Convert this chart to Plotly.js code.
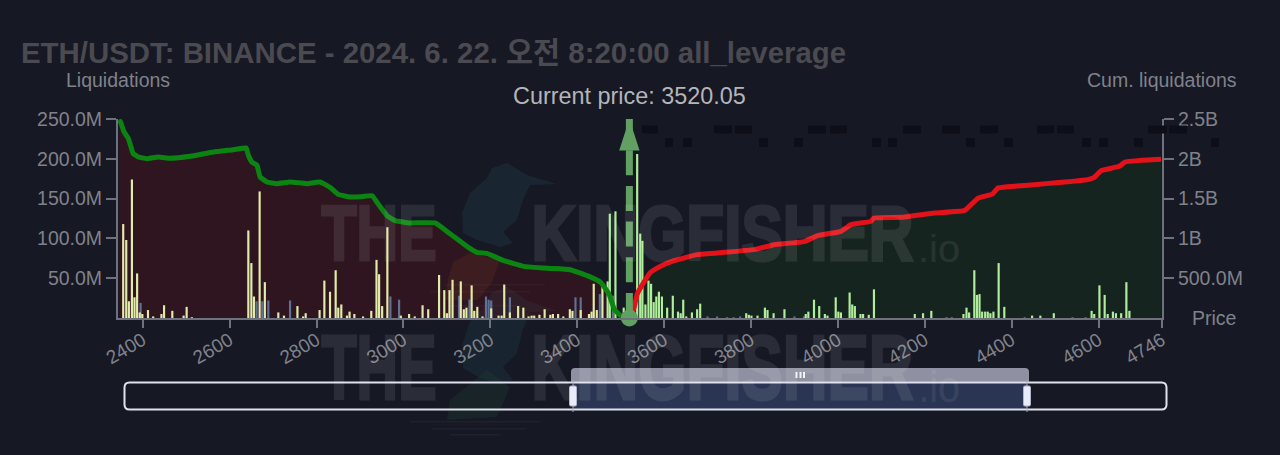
<!DOCTYPE html>
<html><head><meta charset="utf-8">
<script src="https://cdn.plot.ly/plotly-3.0.1.min.js"></script>
<style>html,body{margin:0;padding:0;background:#161824}#c{width:1280px;height:455px}</style>
</head><body><div id="c"></div>
<script>
var yellowPrices=[2355,2362,2368,2375,2381,2387,2393,2399,2412,2424,2443,2449,2468,2494,2501,2513,2643,2650,2656,2669,2681,2712,2725,2756,2769,2775,2807,2818,2831,2844,2850,2857,2870,2876,2887,2907,2926,2938,2944,2951,2963,2994,3013,3026,3044,3057,3082,3094,3100,3106,3113,3132,3139,3145,3157,3163,3170,3182,3202,3219,3226,3232,3245,3264,3276,3288,3295,3301,3313,3325,3338,3344,3356,3368,3383,3389,3408,3427,3433,3438,3445,3458];
var yellowValues=[118,98,21,174,26,56,7,5,10,2,5,16,9,3,14,1,110,69,27,159,45,7,3,15,2,6,10,47,33,60,13,17,3,8,5,2,9,73,55,15,114,3,5,2,16,11,54,35,6,35,48,46,11,13,41,9,14,2,12,3,3,42,7,15,13,2,3,3,4,11,4,5,5,2,11,9,10,5,8,43,10,39];
var bluePrices=[2395,2662,2675,2689,2739,2970,2990,3128,3152,3190,3196,3202,3245,3396,3408,3452,3482,3640,3700,3722,3745,3760,3775,3900,3922,4250,4262,4430,4540,4570];
var blueValues=[19,21,21,22,22,27,23,28,23,27,23,22,26,26,26,30,28,2,2,2,1,1,2,2,2,1,1,1,1,1];
var greenPrices=[3470,3475,3488,3507,3538,3545,3550,3557,3564,3570,3576,3582,3588,3595,3607,3620,3632,3638,3644,3651,3664,3676,3683,3789,3795,3801,3815,3832,3838,3852,3877,3926,3932,3945,3957,3970,3976,3995,4001,4007,4027,4033,4039,4052,4058,4071,4083,4177,4196,4215,4289,4296,4302,4314,4320,4326,4332,4339,4345,4351,4358,4370,4383,4447,4466,4497,4584,4590,4602,4614,4621,4633,4640,4652,4664,4671];
var greenValues=[46,131,134,13,206,106,97,17,47,43,20,27,33,27,13,28,8,6,23,2,7,11,18,6,4,3,3,13,10,6,11,5,8,23,15,5,3,26,8,7,32,17,15,5,5,4,36,5,6,9,5,13,7,60,29,30,8,8,8,6,8,69,14,3,3,6,9,5,41,29,5,8,6,6,45,9];
var shortPrices=[2345,2349,2357,2367,2378,2390,2409,2436,2463,2509,2563,2609,2638,2643,2651,2663,2670,2686,2709,2739,2778,2808,2832,2851,2878,2901,2928,2939,2962,2981,3016,3073,3108,3146,3169,3192,3231,3277,3331,3384,3423,3454,3473,3486,3500,3520.05];
var shortCum=[2.49,2.46,2.337,2.253,2.065,2.023,2.002,2.023,2.006,2.031,2.086,2.115,2.136,2.044,1.96,1.918,1.772,1.709,1.688,1.709,1.688,1.709,1.638,1.55,1.52,1.524,1.537,1.453,1.286,1.223,1.194,1.194,1.055,0.9,0.825,0.812,0.72,0.649,0.624,0.607,0.532,0.448,0.302,0.101,0.03,0];
var longPrices=[3520.05,3530,3538,3550,3569,3592,3623,3676,3738,3807,3853,3922,3953,4007,4030,4076,4083,4145,4222,4291,4302,4322,4356,4368,4391,4452,4575,4590,4606,4648,4661,4690,4744];
var longCum=[0,0.113,0.3,0.419,0.574,0.65,0.72,0.796,0.825,0.859,0.921,0.959,1.034,1.089,1.173,1.214,1.256,1.265,1.319,1.349,1.399,1.503,1.558,1.633,1.65,1.675,1.738,1.767,1.851,1.906,1.96,1.977,1.993];
var currentPrice=3520.05;
var xTickVals=[2400,2600,2800,3000,3200,3400,3600,3800,4000,4200,4400,4600,4746];
var xTickText=['2400','2600','2800','3000','3200','3400','3600','3800','4000','4200','4400','4600','4746'];
var yTickVals=[50,100,150,200,250];
var yTickText=['50.0M','100.0M','150.0M','200.0M','250.0M'];
var y2TickVals=[0.5,1,1.5,2,2.5];
var y2TickText=['500.0M','1B','1.5B','2B','2.5B'];

var L=118,R=1162,T=119,B=318;
function px(x){return (x-L)/(R-L);}
function py(y){return (B-y)/(B-T);}
function P(cmds){return cmds.map(function(c){return c[0]+c.slice(1).map(function(v,i){return i%2?py(v):px(v);}).join(',');}).join(' ');}
function rr(x0,y0,x1,y1,r){
  return P([['M',x0+r,y0],['L',x1-r,y0],['Q',x1,y0,x1,y0+r],['L',x1,y1-r],['Q',x1,y1,x1-r,y1],['L',x0+r,y1],['Q',x0,y1,x0,y1-r],['L',x0,y0+r],['Q',x0,y0,x0+r,y0]])+' Z';
}
function shp(path,fill,line,lw,layer){return {type:'path',xref:'paper',yref:'paper',path:path,fillcolor:fill,line:{color:line||'rgba(0,0,0,0)',width:lw||0},layer:layer||'above'};}
function box(x0,y0,x1,y1,fill,layer){return shp(P([['M',x0,y0],['L',x1,y0],['L',x1,y1],['L',x0,y1]])+' Z',fill,null,0,layer);}
var shapes=[];
// watermark bird outline, upper copy; lower copy is the same outline stretched
var birdOutline=[[507,163],[527,175],[557,184],[530,185],[523,200],[517,220],[503,232],[513,243],[500,247],[477,240],[463,233],[462,213],[470,193],[487,178],[492,168]];
function bird(mapY,c){
  var cmds=birdOutline.map(function(p,i){return [i?'L':'M',p[0],mapY(p[1])];});
  return shp(P(cmds)+' Z',c,null,0,'below');
}
shapes.push(bird(function(y){return y;},'rgba(32,70,80,0.3)'));
shapes.push(bird(function(y){return 332+(y-202)*7/6;},'rgba(32,70,80,0.28)'));
shapes.push(shp(P([['M',453,262],['L',470,253],['L',500,260],['L',492,282],['L',478,300],['L',445,300],['L',448,280]])+' Z','rgba(170,110,40,0.12)',null,0,'below'));
shapes.push(shp(P([['M',450,400],['L',487,370],['L',510,387],['L',497,417],['L',447,420]])+' Z','rgba(30,75,50,0.26)',null,0,'below'));
[[284,445,545],[291,430,530],[305,450,520],[421,410,540],[428,432,525],[434,450,500]].forEach(function(s){
  shapes.push(box(s[1],s[0],s[2],s[0]+1.5,'rgba(120,140,130,0.09)','below'));
});
// dark blocks above the plot
[[642,658],[714,732],[735,752],[808,826],[830,847],[903,921],[942,960],[980,998],[1037,1054],[1057,1074],[1148,1167],[1169,1187]].forEach(function(d){
  shapes.push(box(d[0],125.5,d[1],133.5,'#0d0e17'));
});
[[665,673],[683,692],[759,768],[794,803],[872,881],[888,897],[966,975],[1004,1013],[1082,1091],[1099,1108],[1134,1143],[1211,1219]].forEach(function(d){
  shapes.push(box(d[0],138,d[1],147,'#0d0e17'));
});
// zoom slider
shapes.push(box(573,382,1027,410,'rgba(70,95,150,0.42)'));
shapes.push(shp(rr(124.5,382.5,1166.5,409.5,5),'rgba(0,0,0,0)','#dfe2ee',2));
shapes.push(shp(P([['M',571,382],['L',571,372],['Q',571,368,575,368],['L',1025,368],['Q',1029,368,1029,372],['L',1029,382]])+' Z','rgba(200,204,222,0.68)'));
[795.5,799.5,803].forEach(function(x){shapes.push(box(x,372,x+2,378,'#f2f3f8'));});
[573,1027].forEach(function(x){
  shapes.push(shp(P([['M',x,380],['L',x,412]]),'rgba(0,0,0,0)','#a8acc0',1));
  shapes.push(shp(rr(x-3.5,386,x+3.5,406,1.5),'#e8ebfa','#b0b4c8',1));
});

var wmFont='"Liberation Sans",sans-serif';
function wm(text,x,y,size,w){return {text:text,xref:'paper',yref:'paper',x:px(x),y:py(y),xanchor:'center',yanchor:'middle',showarrow:false,font:{family:wmFont,size:size,weight:w,color:'#ffffff'}};}
function lbl(text,x,y,size,color,anchor){return {text:text,xref:'paper',yref:'paper',x:px(x),y:py(y),xanchor:anchor||'left',yanchor:'middle',showarrow:false,font:{family:'"Liberation Sans",Arial,sans-serif',size:size,color:color}};}
var annotations=[
 wm('THE',379,233,78,700),wm('KINGFISHER',722,233,78,700),wm('.io',939,249,38,400),
 wm('THE',379,367,91,700),wm('KINGFISHER',722,367,91,700),wm('.io',939,386,44,400),
 lbl('Liquidations',64,80,19.5,'#80828a'),
 lbl('Cum. liquidations',1085,80,19.5,'#80828a'),
 lbl('Current price: 3520.05',629,96,23.4,'#b4b5b9','center'),
 lbl('Price',1190,318,19.5,'#80828a')
];
var arrowGreen='#629f62';
var traces=[
 {type:'scatter',mode:'none',x:shortPrices,y:shortCum,yaxis:'y',fill:'tozeroy',fillcolor:'rgba(147,9,16,0.2)',hoverinfo:'skip'},
 {type:'scatter',mode:'none',x:longPrices,y:longCum,yaxis:'y',fill:'tozeroy',fillcolor:'rgba(22,99,11,0.17)',hoverinfo:'skip'},
 {type:'bar',x:bluePrices,y:blueValues,yaxis:'y2',width:5,marker:{color:'#5f7196',line:{width:0}},hoverinfo:'skip'},
 {type:'bar',x:yellowPrices,y:yellowValues,yaxis:'y2',width:5,marker:{color:'#e3ebab',line:{width:0}},hoverinfo:'skip'},
 {type:'bar',x:greenPrices,y:greenValues,yaxis:'y2',width:5,marker:{color:'#b0ee9b',line:{width:0}},hoverinfo:'skip'},
 {type:'scatter',mode:'lines',x:shortPrices,y:shortCum,yaxis:'y3',line:{color:'#0c8412',width:5,shape:'spline',smoothing:0.3},hoverinfo:'skip'},
 {type:'scatter',mode:'lines',x:longPrices,y:longCum,yaxis:'y3',line:{color:'#e3121a',width:5,shape:'spline',smoothing:0.3},hoverinfo:'skip'},
 {type:'scatter',mode:'lines+markers',x:[currentPrice,currentPrice],y:[0,2.5],yaxis:'y3',cliponaxis:false,line:{color:arrowGreen,width:7,dash:'25px,10.7px'},marker:{color:arrowGreen,opacity:1,symbol:['circle','arrow'],size:[17,33],line:{width:0}},hoverinfo:'skip'},
 {type:'scatter',mode:'lines',x:[currentPrice,currentPrice],y:[2.2,2.5],yaxis:'y3',cliponaxis:false,line:{color:arrowGreen,width:7},hoverinfo:'skip'}
];
var axC='#6f717c',tickC='#80828a',tf='"Liberation Sans",Arial,sans-serif';
var layout={
 width:1280,height:455,margin:{l:L,r:1280-R,t:T,b:455-B,autoexpand:false},
 paper_bgcolor:'#161824',plot_bgcolor:'rgba(0,0,0,0)',barmode:'overlay',showlegend:false,
 title:{text:'ETH/USDT: BINANCE - 2024. 6. 22. 오전 8:20:00 all_leverage',x:21/1280,xanchor:'left',y:1-53/455,yanchor:'middle',font:{family:'"Liberation Sans","Noto Sans CJK KR",sans-serif',size:29.4,weight:700,color:'#4a4a50'}},
 xaxis:{range:[2343,4746],tickmode:'array',tickvals:xTickVals,ticktext:xTickText,tickangle:-30,ticks:'outside',ticklen:8,tickwidth:2,tickcolor:axC,ticklabelstandoff:-6,showgrid:false,zeroline:false,showline:true,linecolor:axC,linewidth:2,tickfont:{family:tf,size:19,color:tickC}},
 yaxis:{range:[0,2.5],side:'right',tickmode:'array',tickvals:y2TickVals,ticktext:y2TickText,ticks:'outside',ticklen:10,tickwidth:2,tickcolor:axC,showgrid:false,zeroline:false,showline:true,linecolor:axC,linewidth:2,tickfont:{family:tf,size:19.5,color:tickC}},
 yaxis2:{range:[0,250],overlaying:'y',side:'left',tickmode:'array',tickvals:yTickVals,ticktext:yTickText,ticks:'outside',ticklen:10,tickwidth:2,tickcolor:axC,showgrid:false,zeroline:false,showline:true,linecolor:axC,linewidth:2,tickfont:{family:tf,size:19.5,color:tickC}},
 yaxis3:{range:[0,2.5],overlaying:'y',side:'right',visible:false,showgrid:false,zeroline:false},
 shapes:shapes,annotations:annotations
};
var wmWidths={'THE':115,'KINGFISHER':382,'.io':42};
Plotly.newPlot('c',traces,layout,{displayModeBar:false,staticPlot:true}).then(function(gd){
  gd.querySelectorAll('.annotation-text').forEach(function(t){
    var w=wmWidths[t.textContent];
    if(!w)return;
    t.setAttribute('textLength',w);
    t.setAttribute('lengthAdjust','spacingAndGlyphs');
    t.style.opacity=t.textContent==='.io'?'0.07':'0.085';
    if(t.textContent!=='.io'){t.style.stroke='#ffffff';t.style.strokeWidth='3px';t.style.strokeLinejoin='miter';}
  });
});
</script></body></html>
